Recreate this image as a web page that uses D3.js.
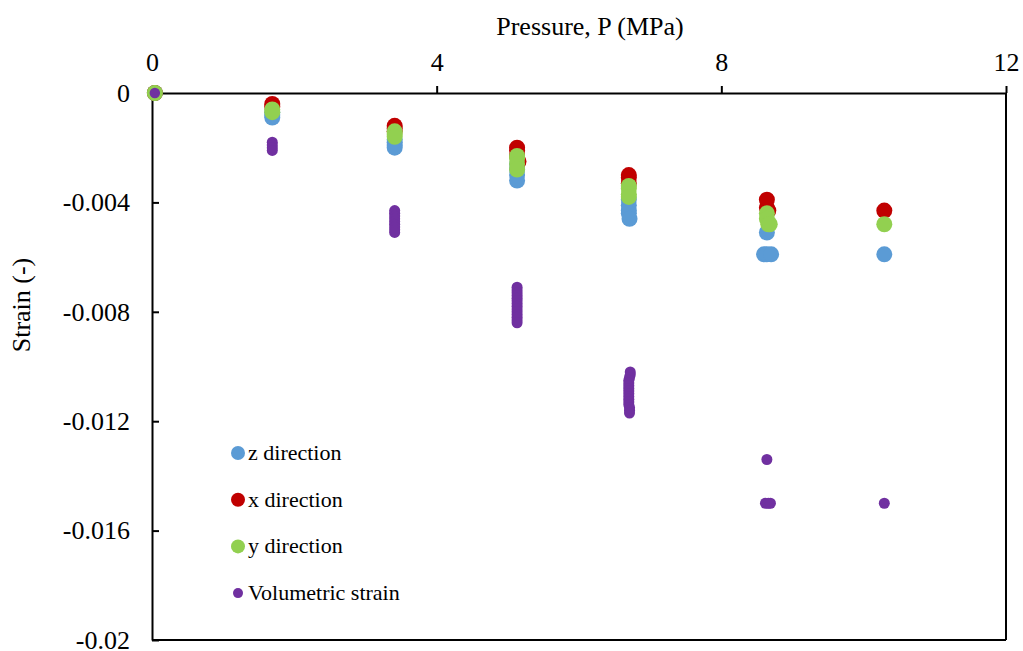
<html>
<head>
<style>
  body { margin: 0; background: #fff; }
  text { font-family: "Liberation Serif", "Times New Roman", serif; fill: #000; }
</style>
</head>
<body>
<svg id="chart"></svg>
<script src="https://cdn.jsdelivr.net/npm/d3@7"></script>
<script>
// tick labels
var xTicks = [0, 4, 8, 12]
var yTicks = [0, -0.004, -0.008, -0.012, -0.016, -0.02]

// series values: [pressure MPa, strain]
var zDirection = [
  [0.04, 0],
  [1.69, -0.0007], [1.69, -0.0008], [1.69, -0.0009],
  [3.41, -0.0017], [3.41, -0.0018], [3.41, -0.0019], [3.41, -0.0020],
  [5.13, -0.0026], [5.13, -0.0028], [5.13, -0.0030], [5.13, -0.0032],
  [6.70, -0.0039], [6.70, -0.0041], [6.70, -0.0043], [6.70, -0.0044], [6.71, -0.0046],
  [8.64, -0.0051], [8.60, -0.0059], [8.64, -0.0059], [8.70, -0.0059],
  [10.29, -0.0059]
]
var xDirection = [
  [0.04, 0],
  [1.69, -0.0004], [1.69, -0.0005],
  [3.41, -0.0012], [3.41, -0.0013], [3.41, -0.0014],
  [5.13, -0.0020], [5.13, -0.0021], [5.13, -0.0023], [5.15, -0.0025],
  [6.70, -0.0030], [6.70, -0.0031], [6.70, -0.0033],
  [8.64, -0.0039], [8.64, -0.0042], [8.66, -0.0043],
  [10.29, -0.0043]
]
var yDirection = [
  [0.04, 0],
  [1.69, -0.0006], [1.69, -0.0007],
  [3.41, -0.0014], [3.41, -0.0015], [3.41, -0.0016],
  [5.13, -0.0023], [5.13, -0.0024], [5.13, -0.0026], [5.13, -0.0028],
  [6.70, -0.0034], [6.70, -0.0035], [6.70, -0.0037], [6.70, -0.0038],
  [8.64, -0.0044], [8.64, -0.0046], [8.66, -0.0048], [8.68, -0.0048],
  [10.29, -0.0048]
]
var volumetric = [
  [0.04, 0],
  [1.69, -0.0018], [1.69, -0.0019], [1.69, -0.0020], [1.69, -0.0021],
  [3.41, -0.0043], [3.41, -0.0044], [3.41, -0.0045], [3.41, -0.0046], [3.41, -0.0047],
  [3.41, -0.0048], [3.41, -0.0049], [3.41, -0.0050], [3.41, -0.0051],
  [5.13, -0.0071], [5.13, -0.0072], [5.13, -0.0073], [5.13, -0.0074], [5.13, -0.0075],
  [5.13, -0.0076], [5.13, -0.0077], [5.13, -0.0078], [5.13, -0.0079], [5.13, -0.0080],
  [5.13, -0.0081], [5.13, -0.0082], [5.13, -0.0083], [5.13, -0.0084],
  [6.72, -0.0102], [6.72, -0.0103], [6.71, -0.0104], [6.70, -0.0105], [6.70, -0.0106],
  [6.70, -0.0107], [6.70, -0.0108], [6.70, -0.0109], [6.70, -0.0110], [6.70, -0.0111],
  [6.70, -0.0112], [6.70, -0.0113], [6.70, -0.0114], [6.71, -0.0115], [6.71, -0.0116],
  [6.71, -0.0117],
  [8.64, -0.0134],
  [8.62, -0.0150], [8.66, -0.0150], [8.69, -0.0150],
  [10.29, -0.0150]
]

var series = [
  { name: "z direction", data: zDirection, color: "#5b9bd5", r: 8, lr: 7 },
  { name: "x direction", data: xDirection, color: "#c00000", r: 8, lr: 7 },
  { name: "y direction", data: yDirection, color: "#92d050", r: 8, lr: 7 },
  { name: "Volumetric strain", data: volumetric, color: "#7030a0", r: 5.5, lr: 5 }
]

var width = 1023, height = 651
var plotLeft = 152, plotRight = 1006, plotTop = 93, plotBottom = 640

var svg = d3.select('#chart').attr('width', width).attr('height', height)

var x = d3.scaleLinear().domain([0, 12]).range([plotLeft, plotRight])
var y = d3.scaleLinear().domain([0, -0.02]).range([plotTop, plotBottom])

// frame lines right and bottom
svg.append('line').attr('x1', plotRight).attr('x2', plotRight).attr('y1', plotTop).attr('y2', plotBottom)
  .attr('stroke', '#000').attr('stroke-width', 2)
svg.append('line').attr('x1', plotLeft).attr('x2', plotRight).attr('y1', plotBottom).attr('y2', plotBottom)
  .attr('stroke', '#000').attr('stroke-width', 2)

// top x axis, ticks outward
var xAxis = svg.append('g').attr('transform', 'translate(0,' + plotTop + ')')
  .call(d3.axisTop(x).tickValues(xTicks).tickSize(7).tickSizeOuter(0).tickPadding(15).tickFormat(d3.format('d')))
xAxis.select('.domain').attr('stroke-width', 2)
xAxis.selectAll('.tick line').attr('stroke-width', 2)
xAxis.selectAll('text').style('font-size', '26px').style('font-family', '"Liberation Serif", serif')

// left y axis, ticks inward
var yAxis = svg.append('g').attr('transform', 'translate(' + plotLeft + ',0)')
  .call(d3.axisLeft(y).tickValues(yTicks).tickSize(-7).tickSizeOuter(0).tickPadding(22)
    .tickFormat(function(d) { return d === 0 ? '0' : String(+d.toFixed(3)) }))
yAxis.select('.domain').attr('stroke-width', 2)
yAxis.selectAll('.tick line').attr('stroke-width', 2)
yAxis.selectAll('text').style('font-size', '26px').style('font-family', '"Liberation Serif", serif')

// axis titles
svg.append('text').attr('x', 590).attr('y', 35).attr('text-anchor', 'middle')
  .style('font-size', '26px').text('Pressure, P (MPa)')
svg.append('text').attr('transform', 'translate(30,305) rotate(-90)').attr('text-anchor', 'middle')
  .style('font-size', '26px').text('Strain (-)')

// points
series.forEach(function(s) {
  svg.append('g').selectAll('circle')
    .data(s.data)
    .enter()
    .append('circle')
    .attr('cx', function(d) { return x(d[0]) })
    .attr('cy', function(d) { return y(d[1]) })
    .attr('r', s.r)
    .style('fill', s.color)
})

// origin ring: green outline around purple
svg.append('circle').attr('cx', x(0.04)).attr('cy', y(0)).attr('r', 6.5)
  .style('fill', '#7030a0').style('stroke', '#92d050').style('stroke-width', 2.5)

// legend
var legend = svg.append('g').selectAll('g')
  .data(series)
  .enter()
  .append('g')
  .attr('transform', function(d, i) { return 'translate(238,' + (453 + i * 46.7) + ')' })
legend.append('circle').attr('r', function(d) { return d.lr }).style('fill', function(d) { return d.color })
legend.append('text').attr('x', 10).attr('y', 7).style('font-size', '22px').text(function(d) { return d.name })
</script>
</body>
</html>
